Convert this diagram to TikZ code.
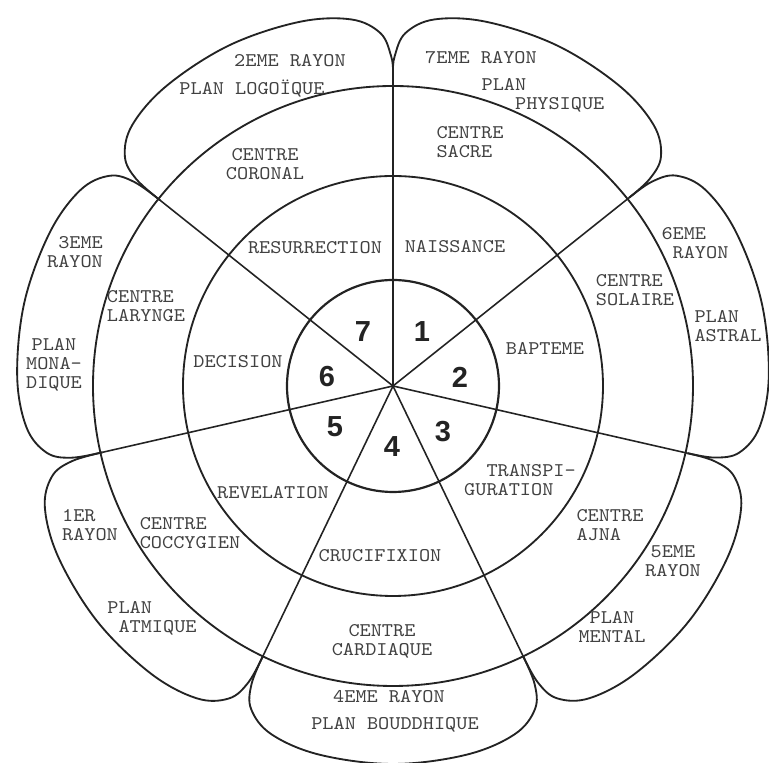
\documentclass[tikz,border=0pt]{standalone}
\usepackage{fontspec}
\newfontfamily\numfont{Liberation Sans}
\newfontfamily\typew{lmmono10-regular.otf}[FakeStretch=1.1]
\usetikzlibrary{calc}
\definecolor{inkdark}{RGB}{35,35,35}
\definecolor{inktext}{RGB}{65,65,65}
\newcommand{\chs}[1]{\hspace*{#1\dimexpr 0.5775em\relax}}
\tikzset{
  ring/.style={draw=inkdark, line width=1.05pt},
  spoke/.style={draw=inkdark, line width=0.9pt},
  petal/.style={draw=inkdark, line width=1.05pt},
  lbl/.style={font=\typew\fontsize{11}{10.7}\selectfont, text=inktext,
    align=center, inner sep=0pt},
  num/.style={font=\numfont\bfseries\fontsize{16.5}{16.5}\selectfont,
    text=inkdark, inner sep=0pt},
}

\begin{document}
\begin{tikzpicture}[x=0.02cm, y=0.02cm]
\useasboundingbox (-393,-377) rectangle (376,386);
\coordinate (o) at (0,0);

%% ─── CUSPS (where two petals meet) ───────────────────────────
\foreach \i/\r in {0/316, 1/302, 2/302, 3/300, 4/300, 5/298, 6/298}{
  \coordinate (c\i) at ({90-\i*360/7}:\r);
}

%% ─── PETALS ──────────────────────────────────────────────────
\foreach \i in {0,...,6}{
  \pgfmathsetmacro\a{90-\i*360/7}
  \pgfmathtruncatemacro\j{mod(\i+1,7)}
  \draw[petal] plot[smooth, tension=0.6] coordinates {
    (c\i) ({\a-0.3}:330) ({\a-2}:353) ({\a-6.5}:369) ({\a-14.5}:376)
    ({\a-25.7}:378) ({\a-36.9}:376) ({\a-44.9}:369) ({\a-49.4}:353)
    ({\a-51.1}:330) (c\j)};
}

%% ─── RINGS ───────────────────────────────────────────────────
\draw[ring] (o) circle[radius=300];
\draw[ring] (o) circle[radius=210];
\draw[ring, line width=1.25pt] (o) circle[radius=106];

%% ─── SPOKES ──────────────────────────────────────────────────
\foreach \i in {0,...,6}{
  \draw[spoke] (o) -- (c\i);
}

%% ─── NUMBERS ─────────────────────────────────────────────────
\node[num] (n1) at (29,54) {1};
\node[num] (n2) at (67,9) {2};
\node[num] (n3) at (50,-46) {3};
\node[num] (n4) at (-1,-61) {4};
\node[num] (n5) at (-58,-41) {5};
\node[num] (n6) at (-66,9) {6};
\node[num] (n7) at (-30,54) {7};

%% ─── INITIATIONS ─────────────────────────────────────────────
\node[lbl] (naissance) at (62,139) {NAISSANCE};
\node[lbl] (bapteme) at (152,38) {BAPTEME};
\node[lbl, align=left] (transfig) at (127,-94) {\chs{2}TRANSPI-\\GURATION};
\node[lbl] (crucifix) at (-13,-170) {CRUCIFIXION};
\node[lbl] (revelation) at (-120,-107) {REVELATION};
\node[lbl] (decision) at (-155,24) {DECISION};
\node[lbl] (resurrect) at (-78,138) {RESURRECTION};

%% ─── CENTRES ─────────────────────────────────────────────────
\node[lbl, align=left] (sacre) at (77,244) {CENTRE\\SACRE};
\node[lbl, align=left] (solaire) at (242,96) {CENTRE\\SOLAIRE};
\node[lbl, align=left] (ajna) at (217,-139) {CENTRE\\AJNA};
\node[lbl] (cardiaque) at (-11,-255) {CENTRE\\CARDIAQUE};
\node[lbl, align=left] (coccygien) at (-203,-147) {CENTRE\\COCCYGIEN};
\node[lbl, align=left] (larynge) at (-247,80) {CENTRE\\LARYNGE};
\node[lbl] (coronal) at (-128,222) {CENTRE\\CORONAL};

%% ─── RAYONS ET PLANS ─────────────────────────────────────────
\node[lbl] (r7) at (88,328) {7EME RAYON};
\node[lbl, align=left] (p7) at (150,291) {PLAN\\\chs{3}PHYSIQUE};
\node[lbl, align=left] (r6) at (302,143) {6EME\\\chs{1}RAYON};
\node[lbl, align=left] (p6) at (335,60) {PLAN\\ASTRAL};
\node[lbl] (r5) at (280,-175) {5EME\\RAYON};
\node[lbl] (p5) at (219,-241) {PLAN\\MENTAL};
\node[lbl] (r4) at (-4,-311) {4EME RAYON};
\node[lbl] (p4) at (2,-339) {PLAN BOUDDHIQUE};
\node[lbl, align=left] (r1) at (-303,-139) {1ER\\RAYON};
\node[lbl, align=left] (p1) at (-241,-232) {PLAN\\\chs{1}ATMIQUE};
\node[lbl, align=right] (r3) at (-318,134) {3EME\\RAYON};
\node[lbl] (p3) at (-339,21) {PLAN\\MONA-\\DIQUE};
\node[lbl] (r2) at (-103,325) {2EME RAYON};
\node[lbl] (p2) at (-141,297) {PLAN LOGOÏQUE};

\end{tikzpicture}
\end{document}
